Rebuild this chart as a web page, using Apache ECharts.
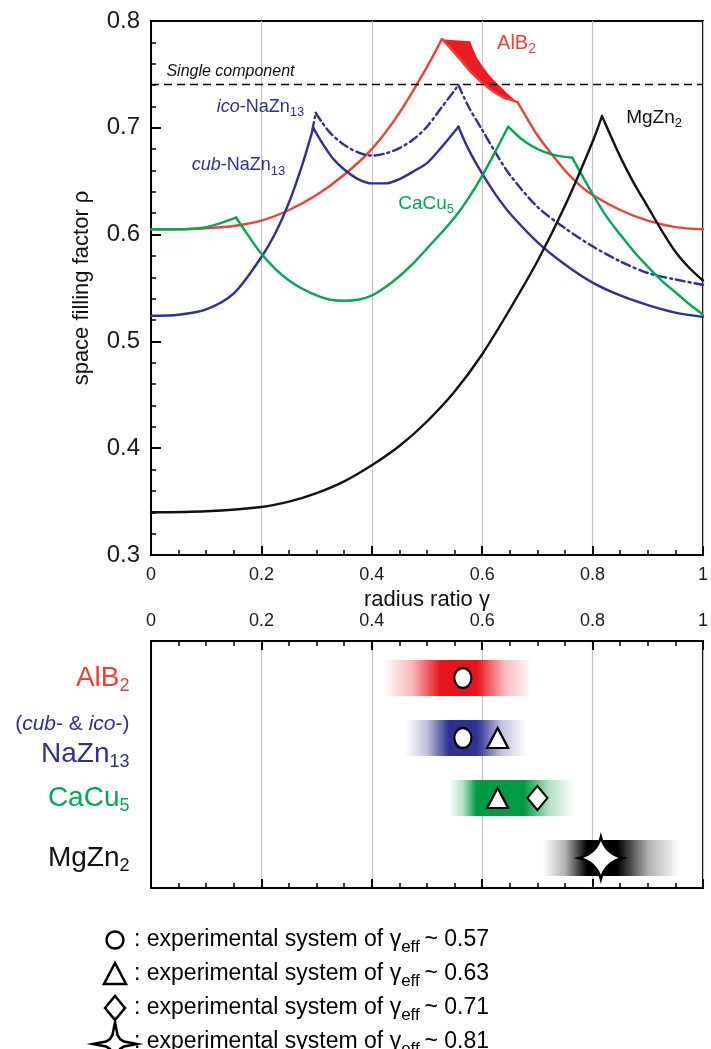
<!DOCTYPE html>
<html>
<head>
<meta charset="utf-8">
<script src="https://cdn.jsdelivr.net/npm/echarts@6.0.0/dist/echarts.min.js"></script>
<style>
html,body{margin:0;padding:0;background:#ffffff;}
#chart{width:711px;height:1049px;}
</style>
</head>
<body>
<div id="chart"></div>
<script>
// ================= DATA =================
// Upper panel: space filling factor rho versus radius ratio gamma, points [gamma, rho].
// Each curve is split at its cusps into smooth pieces.
const singleComponent = 0.7405;

const alB2Rise = [[0,0.605],[0.05,0.605],[0.1,0.606],[0.15,0.608],[0.2,0.613],[0.25,0.623],[0.3,0.637],[0.35,0.656],[0.4,0.680],[0.45,0.714],[0.5,0.757],[0.527,0.783]];
const alB2BandLower = [[0.527,0.783],[0.54,0.776],[0.552,0.769],[0.565,0.761],[0.58,0.752],[0.6,0.742],[0.62,0.734],[0.64,0.728],[0.652,0.726],[0.664,0.724]];
const alB2BandUpper = [[0.527,0.783],[0.55,0.782],[0.578,0.781],[0.585,0.772],[0.59,0.766],[0.6,0.758],[0.61,0.751],[0.62,0.745],[0.63,0.740],[0.64,0.735],[0.652,0.729],[0.664,0.724]];
const alB2Tail = [[0.664,0.724],[0.68,0.710],[0.7,0.693],[0.725,0.676],[0.75,0.660],[0.775,0.647],[0.8,0.637],[0.85,0.623],[0.9,0.613],[0.95,0.607],[1.0,0.605]];

const cubNaZn13 = [
  [[0,0.524],[0.05,0.525],[0.1,0.530],[0.15,0.545],[0.2,0.579],[0.225,0.601],[0.25,0.630],[0.275,0.667],[0.294,0.700]],
  [[0.294,0.700],[0.31,0.686],[0.33,0.671],[0.35,0.661],[0.375,0.652],[0.4,0.648],[0.425,0.648],[0.45,0.652],[0.475,0.659],[0.5,0.667],[0.525,0.681],[0.557,0.701]],
  [[0.557,0.701],[0.575,0.680],[0.6,0.657],[0.625,0.637],[0.65,0.620],[0.7,0.593],[0.75,0.572],[0.8,0.555],[0.85,0.543],[0.9,0.534],[0.95,0.527],[1.0,0.523]]
];
const icoNaZn13 = [
  [[0.292,0.697],[0.2985,0.714]],
  [[0.2985,0.714],[0.31,0.705],[0.325,0.695],[0.35,0.684],[0.375,0.677],[0.4,0.674],[0.425,0.676],[0.45,0.681],[0.475,0.689],[0.5,0.701],[0.525,0.718],[0.557,0.740]],
  [[0.557,0.740],[0.575,0.720],[0.6,0.698],[0.625,0.676],[0.65,0.656],[0.7,0.626],[0.75,0.606],[0.8,0.589],[0.85,0.575],[0.9,0.564],[0.95,0.558],[1.0,0.553]]
];
const caCu5 = [
  [[0,0.605],[0.05,0.605],[0.1,0.607],[0.154,0.616]],
  [[0.154,0.616],[0.175,0.600],[0.2,0.582],[0.225,0.568],[0.25,0.557],[0.275,0.549],[0.3,0.543],[0.325,0.539],[0.35,0.538],[0.375,0.539],[0.4,0.543],[0.425,0.551],[0.45,0.561],[0.475,0.573],[0.5,0.587],[0.525,0.601],[0.55,0.616],[0.575,0.634],[0.6,0.655],[0.625,0.679],[0.647,0.701]],
  [[0.647,0.701],[0.67,0.690],[0.69,0.683],[0.71,0.678],[0.735,0.674],[0.763,0.672]],
  [[0.763,0.672],[0.8,0.638],[0.825,0.617],[0.85,0.600],[0.875,0.584],[0.9,0.570],[0.925,0.557],[0.95,0.546],[0.975,0.535],[1.0,0.525]]
];
const mgZn2 = [
  [[0,0.340],[0.1,0.341],[0.2,0.345],[0.25,0.350],[0.3,0.358],[0.35,0.369],[0.4,0.384],[0.45,0.402],[0.5,0.425],[0.55,0.453],[0.6,0.488],[0.65,0.530],[0.7,0.575],[0.75,0.627],[0.8,0.687],[0.817,0.711]],
  [[0.817,0.711],[0.85,0.673],[0.875,0.648],[0.9,0.626],[0.925,0.604],[0.95,0.584],[0.975,0.569],[1.0,0.557]]
];

// Lower panel: gamma ranges per structure (fade start, full from, full to, fade end)
const structures = ['AlB2','NaZn13','CaCu5','MgZn2'];
const rangeStart    = [0.42, 0.46, 0.54, 0.71];
const rangeFullFrom = [0.525,0.54, 0.59, 0.79];
const rangeFullTo   = [0.59, 0.59, 0.675,0.845];
const rangeEnd      = [0.69, 0.68, 0.768,0.958];
// experimental systems [structure, gamma_eff]
const circlePts   = [['AlB2',0.565],['NaZn13',0.565]];
const trianglePts = [['NaZn13',0.628],['CaCu5',0.628]];
const diamondPts  = [['CaCu5',0.700]];
const starPts     = [['MgZn2',0.815]];
const legendGamma = ['0.57','0.63','0.71','0.81'];

// ================= STYLE =================
const FONT = '"Liberation Sans", Arial, Helvetica, sans-serif';
const RED = '#ef4136', BLUE = '#2e3192', GREEN = '#00a651', BLACK = '#111111';
const bandRGB = [[232,20,28],[46,49,146],[0,154,68],[0,0,0]];
const STAR_PATH = 'path://M0,-20 Q4,-4 20,0 Q4,4 0,20 Q-4,4 -20,0 Q-4,-4 0,-20 Z';
const STAR_SHAPE = [[0,-22],[2.5,-9],[5,-5],[9,-2.5],[22,0],[9,2.5],[5,5],[2.5,9],[0,22],[-2.5,9],[-5,5],[-9,2.5],[-22,0],[-9,-2.5],[-5,-5],[-2.5,-9]];

function rowValue(name){ return structures.length - 1 - structures.indexOf(name); }
function rgba(c,a){ return 'rgba('+c[0]+','+c[1]+','+c[2]+','+a+')'; }

function richSet(prefix, color, size, subSize, off){
  const o = {};
  o[prefix+'n'] = {color:color, fontSize:size, fontFamily:FONT, padding:[0,0,off,0]};
  o[prefix+'i'] = {color:color, fontSize:size, fontFamily:FONT, fontStyle:'italic', padding:[0,0,off,0]};
  o[prefix+'s'] = {color:color, fontSize:subSize, fontFamily:FONT, padding:[off,0,0,0]};
  return o;
}

const annotRich = Object.assign({},
  richSet('r', RED, 20, 14, 6), richSet('b', BLUE, 18, 13, 6),
  richSet('g', GREEN, 19, 13, 6), richSet('k', BLACK, 19, 13, 6),
  {sc:{color:'#111', fontSize:16, fontStyle:'italic', fontFamily:FONT}});
const annotText = {
  single:'{sc|Single component}',
  alb2:'{rn|AlB}{rs|2}',
  ico:'{bi|ico}{bn|-NaZn}{bs|13}',
  cub:'{bi|cub}{bn|-NaZn}{bs|13}',
  cacu5:'{gn|CaCu}{gs|5}',
  mgzn2:'{kn|MgZn}{ks|2}'
};

const rowRich = Object.assign({},
  richSet('r', RED, 28, 18, 8), richSet('b', BLUE, 28, 18, 8),
  richSet('g', GREEN, 28, 18, 8), richSet('k', BLACK, 28, 18, 8),
  {bt:{color:BLUE, fontSize:21, fontFamily:FONT, lineHeight:32}, bti:{color:BLUE, fontSize:21, fontFamily:FONT, fontStyle:'italic', lineHeight:32}});
const rowText = {
  AlB2:'{rn|AlB}{rs|2}',
  NaZn13:'{bt|(}{bti|cub}{bt|- & }{bti|ico}{bt|-)}\n{bn|NaZn}{bs|13}',
  CaCu5:'{gn|CaCu}{gs|5}',
  MgZn2:'{kn|MgZn}{ks|2}'
};

function curveSeries(pieces, color, dash){
  return pieces.map(function(pts){
    return {type:'line', xAxisIndex:0, yAxisIndex:0, data:pts, smooth:0.3,
      showSymbol:false, symbol:'none', silent:true, clip:true, z:4,
      lineStyle:{color:color, width:2.4, type:dash || 'solid', cap:'round', join:'round'}};
  });
}

const axisLineStyle = {color:'#000', width:2};
function xAxisCommon(grid, pos, showLabel){
  return {gridIndex:grid, type:'value', position:pos, min:0, max:1, interval:0.2,
    axisLine:{show:true, onZero:false, lineStyle:axisLineStyle},
    axisTick:{show:true, inside:true, length:9, lineStyle:{color:'#000', width:2}},
    minorTick:{show:true, splitNumber:4, length:5, lineStyle:{color:'#000', width:1.5}},
    splitLine:{show:false}, minorSplitLine:{show:false},
    axisLabel:{show:showLabel, fontSize:18, color:'#1a1a1a', fontFamily:FONT, margin:11}};
}

const series = [];
// single component dashed reference
series.push({type:'line', xAxisIndex:0, yAxisIndex:0, data:[[0,singleComponent],[1,singleComponent]],
  showSymbol:false, symbol:'none', silent:true, z:6,
  lineStyle:{color:'#000', width:1.4, type:[8,5]}});
// AlB2 band
series.push({type:'custom', xAxisIndex:0, yAxisIndex:0, silent:true, z:3,
  data:[alB2BandUpper[0]], encode:{x:0, y:1},
  renderItem:function(params, api){
    const pts = alB2BandUpper.map(function(p){return api.coord(p);})
      .concat(alB2BandLower.slice().reverse().map(function(p){return api.coord(p);}));
    return {type:'polygon', shape:{points:pts}, style:{fill:'#ed1c24'}};
  }});
series.push.apply(series, curveSeries([alB2Rise, alB2BandLower, alB2Tail], RED));
series.push.apply(series, curveSeries(cubNaZn13, BLUE));
series.push.apply(series, curveSeries(icoNaZn13, BLUE, [9,4,2,4]));
series.push.apply(series, curveSeries(caCu5, GREEN));
series.push.apply(series, curveSeries(mgZn2, BLACK));
// curve labels
series.push({type:'scatter', xAxisIndex:0, yAxisIndex:0, silent:true, symbolSize:1, z:7,
  itemStyle:{color:'rgba(0,0,0,0)', opacity:1},
  data:[[0.027,0.753,'single'],[0.626,0.776,'alb2'],[0.118,0.717,'ico'],[0.073,0.662,'cub'],[0.447,0.626,'cacu5'],[0.86,0.707,'mgzn2']],
  label:{show:true, position:'right', distance:0, rich:annotRich, opacity:1,
    formatter:function(p){return annotText[p.value[2]];}}});

// lower panel bands
series.push({type:'custom', xAxisIndex:1, yAxisIndex:1, silent:true, z:2,
  data:structures.map(function(s,i){return [rangeStart[i], rangeFullFrom[i], rangeFullTo[i], rangeEnd[i], rowValue(s)];}),
  encode:{x:[0,3], y:4},
  renderItem:function(params, api){
    const i = params.dataIndex, row = api.value(4);
    const a = api.coord([api.value(0), row]);
    const b = api.coord([api.value(1), row])[0];
    const c = api.coord([api.value(2), row])[0];
    const d = api.coord([api.value(3), row])[0];
    const w = d - a[0], h = 36, col = bandRGB[i];
    const ob = (b - a[0]) / w, oc = (c - a[0]) / w;
    return {type:'rect', shape:{x:a[0], y:a[1]-h/2, width:w, height:h},
      style:{fill:{type:'linear', x:0, y:0, x2:1, y2:0, colorStops:[
        {offset:0, color:rgba(col,0)},
        {offset:ob*0.5, color:rgba(col,0.3)},
        {offset:ob, color:rgba(col,1)},
        {offset:oc, color:rgba(col,1)},
        {offset:oc+(1-oc)*0.5, color:rgba(col,0.3)},
        {offset:1, color:rgba(col,0)}]}}};
  }});
const markerStyle = {color:'#ffffff', borderColor:'#000', borderWidth:2.2, opacity:1};
function markerSeries(pts, symbol, size, bw){
  return {type:'scatter', xAxisIndex:1, yAxisIndex:1, silent:true, z:5, symbol:symbol, symbolSize:size,
    itemStyle:Object.assign({}, markerStyle, bw ? {borderWidth:bw} : {}),
    data:pts.map(function(p){return [p[1], rowValue(p[0])];})};
}
series.push(markerSeries(circlePts, 'circle', [17,20]));
series.push(markerSeries(trianglePts, 'triangle', [21,20]));
series.push(markerSeries(diamondPts, 'diamond', [20,24]));
series.push(markerSeries(starPts, STAR_PATH, [44,42], 2.5));
// row labels
series.push({type:'scatter', xAxisIndex:1, yAxisIndex:1, silent:true, symbolSize:1, z:7,
  itemStyle:{color:'rgba(0,0,0,0)', opacity:1},
  data:structures.map(function(s){return [0, rowValue(s), s];}),
  label:{show:true, position:'left', distance:21, align:'right', rich:rowRich, opacity:1, offset:[0,4],
    formatter:function(p){return rowText[p.value[2]];}}});

// legend (explanatory glyphs + text)
const legendX = 115, legendTextX = 134, legendY0 = 940, legendDY = 34;
const legRich = {n:{fontSize:23, fontFamily:FONT, fill:'#000', color:'#000', padding:[0,0,7,0]},
                 s:{fontSize:17, fontFamily:FONT, fill:'#000', color:'#000', padding:[7,0,0,0]}};
const glyphStyle = {fill:'#fff', stroke:'#000', lineWidth:2.5};
const graphics = [
  {type:'circle', shape:{cx:legendX, cy:legendY0, r:8.5}, style:glyphStyle},
  {type:'polygon', shape:{points:[[legendX,legendY0+legendDY-11],[legendX-11,legendY0+legendDY+10],[legendX+11,legendY0+legendDY+10]]}, style:glyphStyle},
  {type:'polygon', shape:{points:[[legendX,legendY0+2*legendDY-12],[legendX+10,legendY0+2*legendDY],[legendX,legendY0+2*legendDY+12],[legendX-10,legendY0+2*legendDY]]}, style:glyphStyle},
  {type:'polygon', shape:{points:STAR_SHAPE.map(function(p){return [legendX+p[0], legendY0+3*legendDY+2+p[1]];})}, style:glyphStyle}
];
legendGamma.forEach(function(g, i){
  graphics.push({type:'text', x:legendTextX, y:legendY0 + 3.5 + i*legendDY,
    style:{text:'{n|: experimental system of \u03b3}{s|eff }{n|~ '+g+'}', rich:legRich, fill:'#000',
      align:'left', verticalAlign:'middle', font:'23px '+FONT}});
});

const option = {
  backgroundColor:'#ffffff',
  animation:false,
  grid:[
    {left:151, top:21, width:562, height:534, show:true, borderColor:'#000', borderWidth:2, backgroundColor:'transparent'},
    {left:151, top:641, width:562, height:247, show:true, borderColor:'#000', borderWidth:2, backgroundColor:'transparent'}
  ],
  xAxis:[
    Object.assign(xAxisCommon(0, 'bottom', true), {
      splitLine:{show:true, lineStyle:{color:'#c4c4c4', width:1.2}},
      name:'radius ratio \u03b3', nameLocation:'middle', nameGap:33,
      nameTextStyle:{fontSize:22, color:'#111', fontFamily:FONT}}),
    Object.assign(xAxisCommon(1, 'top', true), {
      splitLine:{show:true, lineStyle:{color:'#c4c4c4', width:1.2}}}),
    xAxisCommon(1, 'bottom', false)
  ],
  yAxis:[
    {gridIndex:0, type:'value', min:0.3, max:0.8, interval:0.1,
      axisLine:{show:true, onZero:false, lineStyle:axisLineStyle},
      axisTick:{show:true, inside:true, length:10, lineStyle:{color:'#000', width:2}},
      minorTick:{show:true, splitNumber:5, length:5, lineStyle:{color:'#000', width:1.5}},
      splitLine:{show:false},
      axisLabel:{fontSize:24, color:'#1a1a1a', fontFamily:FONT, margin:11,
        formatter:function(v){return v.toFixed(1);}},
      name:'space filling factor \u03c1', nameLocation:'middle', nameGap:58,
      nameTextStyle:{fontSize:22, color:'#111', fontFamily:FONT}},
    {gridIndex:1, type:'value', min:-0.5, max:3.617,
      axisLine:{show:true, onZero:false, lineStyle:axisLineStyle},
      axisTick:{show:false}, axisLabel:{show:false}, splitLine:{show:false}}
  ],
  graphic:graphics,
  series:series
};

const chart = echarts.init(document.getElementById('chart'), null, {renderer:'canvas'});
chart.setOption(option);
</script>
</body>
</html>
